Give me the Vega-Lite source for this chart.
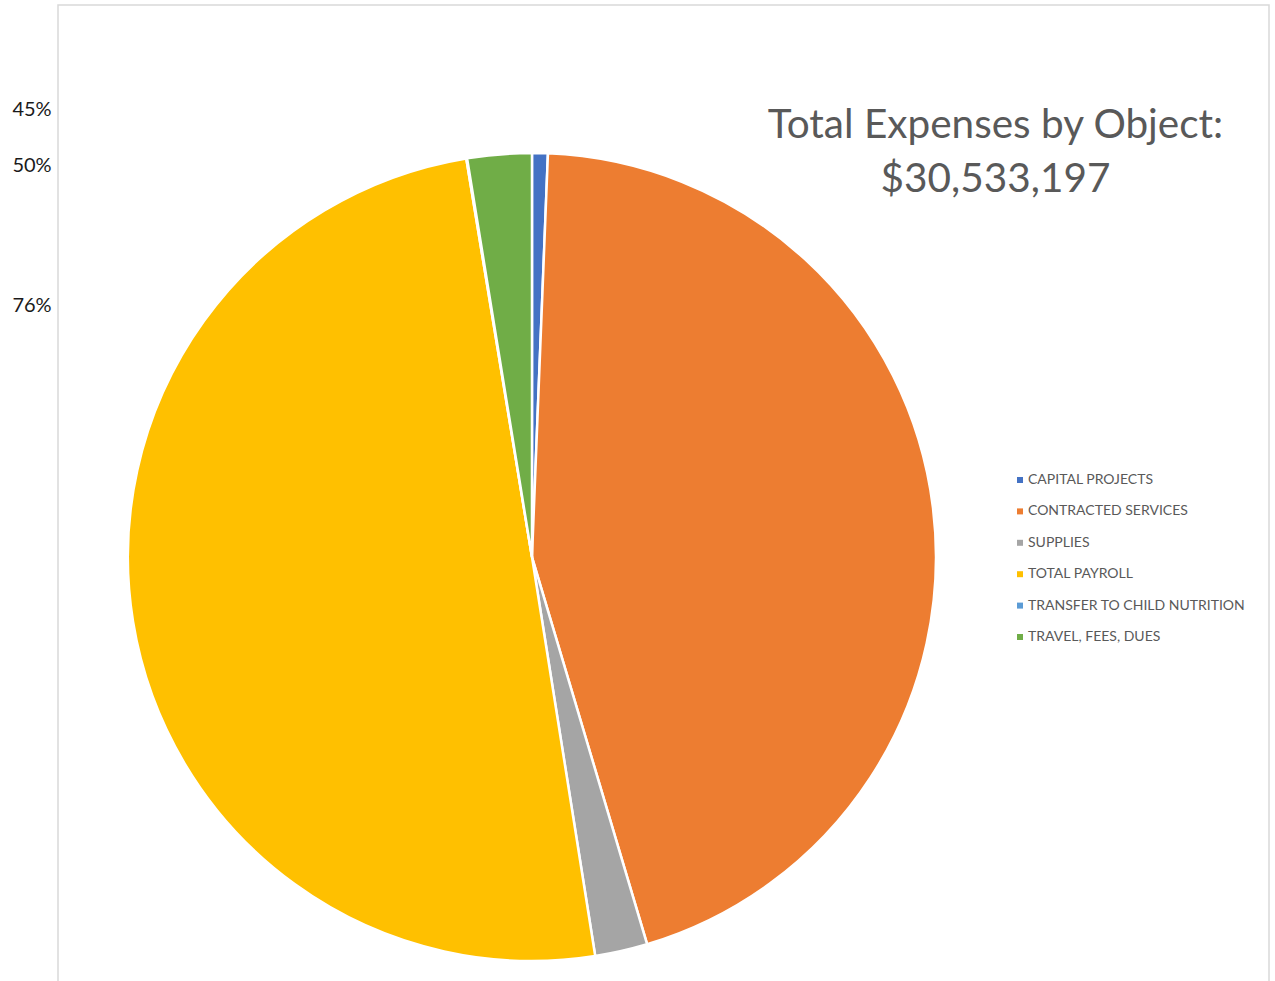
{
  "$schema": "https://vega.github.io/schema/vega-lite/v6.json",
  "autosize": {"type": "none"},
  "padding": {"left": 58, "top": 5, "right": 6, "bottom": 0},
  "width": 1211,
  "height": 980,
  "background": "white",
  "view": {"stroke": "#d9d9d9", "strokeWidth": 1.5},
  "config": {
    "view": {"stroke": "#d9d9d9", "strokeWidth": 1.5},
    "font": "Lato"
  },
  "title": {
    "text": ["Total Expenses by Object:", "$30,533,197"],
    "orient": "top",
    "anchor": "middle",
    "dx": 332,
    "dy": 231,
    "font": "Lato",
    "fontSize": 40.5,
    "fontWeight": "normal",
    "color": "#595959",
    "lineHeight": 54,
    "baseline": "alphabetic"
  },
  "datasets": {
    "expenses": [
      {"category": "CAPITAL PROJECTS", "amount": 192000},
      {"category": "CONTRACTED SERVICES", "amount": 13670000},
      {"category": "SUPPLIES", "amount": 641000},
      {"category": "TOTAL PAYROLL", "amount": 15236000},
      {"category": "TRANSFER TO CHILD NUTRITION", "amount": 10000},
      {"category": "TRAVEL, FEES, DUES", "amount": 784197}
    ]
  },
  "layer": [
    {
      "data": {"name": "expenses"},
      "mark": {
        "type": "arc",
        "radius": 404,
        "x": {"expr": "width*0.3914"},
        "y": {"expr": "height*0.5633"},
        "stroke": "white",
        "strokeWidth": 2.5
      },
      "encoding": {
        "theta": {"field": "amount", "type": "quantitative", "stack": true},
        "order": {"field": "category", "type": "nominal"},
        "color": {
          "field": "category",
          "type": "nominal",
          "scale": {
            "domain": ["CAPITAL PROJECTS", "CONTRACTED SERVICES", "SUPPLIES", "TOTAL PAYROLL", "TRANSFER TO CHILD NUTRITION", "TRAVEL, FEES, DUES"],
            "range": ["#4472C4", "#ED7D31", "#A5A5A5", "#FFC000", "#5B9BD5", "#70AD47"]
          },
          "legend": {
            "title": null,
            "orient": "none",
            "legendX": 955,
            "legendY": 468,
            "symbolType": "square",
            "symbolSize": 36,
            "symbolStrokeWidth": 0,
            "labelFont": "Lato",
            "labelFontSize": 14,
            "labelColor": "#595959",
            "labelOffset": 1,
            "rowPadding": 17.4,
            "labelLimit": 400
          }
        }
      }
    },
    {
      "data": {"values": [{"label": "45%"}]},
      "mark": {"type": "text", "x": -26, "y": 111, "align": "center", "baseline": "alphabetic", "fontSize": 20, "font": "Lato", "color": "#1a1a1a"},
      "encoding": {"text": {"field": "label"}}
    },
    {
      "data": {"values": [{"label": "50%"}]},
      "mark": {"type": "text", "x": -26, "y": 167, "align": "center", "baseline": "alphabetic", "fontSize": 20, "font": "Lato", "color": "#1a1a1a"},
      "encoding": {"text": {"field": "label"}}
    },
    {
      "data": {"values": [{"label": "76%"}]},
      "mark": {"type": "text", "x": -26, "y": 307, "align": "center", "baseline": "alphabetic", "fontSize": 20, "font": "Lato", "color": "#1a1a1a"},
      "encoding": {"text": {"field": "label"}}
    }
  ]
}
